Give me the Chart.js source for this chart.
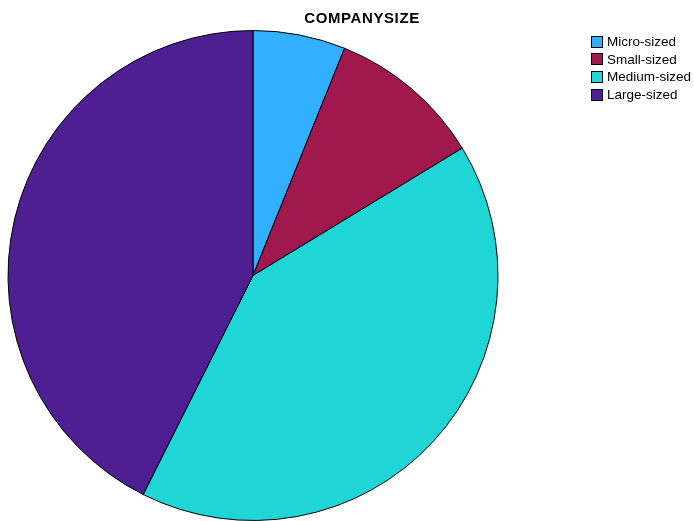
<!DOCTYPE html>
<html>
<head>
<meta charset="utf-8">
<script src="https://cdn.jsdelivr.net/npm/chart.js@4/dist/chart.umd.min.js"></script>
<style>
  body { margin: 0; background: #fff; font-family: "Liberation Sans", Arial, sans-serif; }
  #wrap { position: relative; width: 694px; height: 521px; }
  #title { position: absolute; left: 262px; width: 200px; top: 9px; text-align: center;
           font-weight: bold; font-size: 15px; letter-spacing: 0.6px; color: #000; }
  #legend { position: absolute; left: 591px; top: 33px; font-size: 13.5px; color: #000; }
  .item { display: flex; align-items: center; height: 17.6px; }
  .box { width: 10px; height: 10px; border: 1px solid #000; margin-right: 4px; }
</style>
</head>
<body>
<div id="wrap">
  <canvas id="pieChart" width="694" height="521"></canvas>
  <div id="title">COMPANYSIZE</div>
  <div id="legend"></div>
</div>
<script>
// category labels and share of companies (%)
const categories = ['Micro-sized', 'Small-sized', 'Medium-sized', 'Large-sized'];
const shares = [6.1, 10.2, 41.1, 42.6];
const colors = ['rgb(51, 175, 255)', 'rgb(161, 24, 79)', 'rgb(32, 213, 213)', 'rgb(78, 31, 146)'];

// simple html legend
const legend = document.getElementById('legend');
categories.forEach((name, i) => {
    const row = document.createElement('div');
    row.className = 'item';
    row.innerHTML = '<span class="box" style="background:' + colors[i] + '"></span>' + name;
    legend.appendChild(row);
});

const ctx = document.getElementById('pieChart').getContext('2d');

const pieChart = new Chart(ctx, {
    type: 'pie',
    data: {
        labels: categories,
        datasets: [{
            data: shares,
            backgroundColor: colors,
            borderColor: '#000',
            borderWidth: 1
        }]
    },
    options: {
        responsive: false,
        animation: false,
        layout: {
            padding: { left: 7, right: 195, top: 30, bottom: 0 }
        },
        plugins: {
            legend: { display: false },
            title: { display: false },
            tooltip: { enabled: false }
        }
    }
});
</script>
</body>
</html>
